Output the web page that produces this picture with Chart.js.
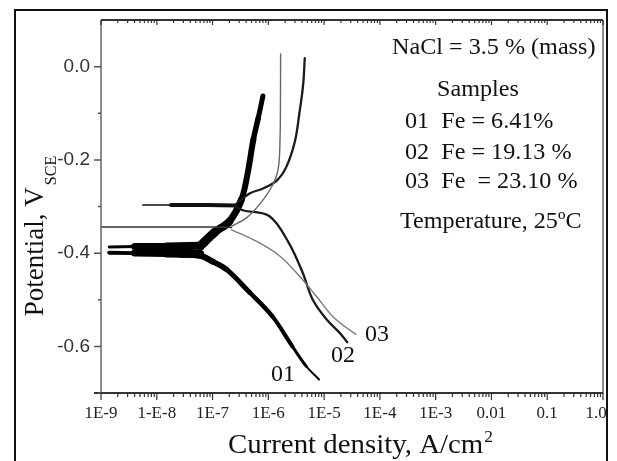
<!DOCTYPE html>
<html>
<head>
<meta charset="utf-8">
<script src="https://cdn.jsdelivr.net/npm/chart.js@4.4.1/dist/chart.umd.min.js"></script>
<style>
  html, body { margin: 0; padding: 0; background: #fff; }
  #wrap { width: 617px; height: 461px; position: relative; }
</style>
</head>
<body>
<div id="wrap"><canvas id="tafel"></canvas></div>
<script>
// x axis: one label per decade of current density
const decades = [-9, -8, -7, -6, -5, -4, -3, -2, -1, 0];
const decadeLabels = ['1E-9', '1-E-8', '1E-7', '1E-6', '1E-5', '1E-4', '1E-3', '0.01', '0.1', '1.0'];
const potentialTicks = [-0.6, -0.4, -0.2, 0.0];

// sample 01  Fe = 6.41 %
const s01BandI = [1.4e-9, 4e-9, 1.5e-8, 6e-8];
const s01BandHighE = [-0.387, -0.386, -0.386, -0.384];
const s01BandLowE = [-0.399, -0.400, -0.401, -0.402];
const s01CathodicI = [2.6e-8, 5.9e-8, 1.0e-7, 1.78e-7, 4.6e-7, 1.17e-6, 2.7e-6, 4.8e-6, 8.1e-6];
const s01CathodicE = [-0.402, -0.405, -0.418, -0.435, -0.484, -0.535, -0.600, -0.643, -0.671];
const s01AnodicI = [6.0e-8, 1.1e-7, 2.0e-7, 3.3e-7, 4.3e-7, 5.4e-7, 6.6e-7, 8.0e-7];
const s01AnodicE = [-0.385, -0.355, -0.332, -0.285, -0.226, -0.156, -0.110, -0.063];

// sample 02  Fe = 19.13 %
const s02SpikeI = [5.6e-9, 1.8e-8, 8e-8, 2.6e-7];
const s02SpikeE = [-0.297, -0.297, -0.297, -0.298];
const s02CathodicI = [2.6e-7, 3.5e-7, 1.05e-6, 2.3e-6, 4.1e-6, 6.2e-6, 1.1e-5, 1.87e-5, 2.6e-5];
const s02CathodicE = [-0.300, -0.308, -0.321, -0.377, -0.441, -0.499, -0.542, -0.570, -0.591];
const s02AnodicI = [2.6e-7, 4.6e-7, 7.8e-7, 1.4e-6, 2.1e-6, 3.0e-6, 3.6e-6, 4.2e-6, 4.5e-6];
const s02AnodicE = [-0.296, -0.272, -0.262, -0.245, -0.215, -0.160, -0.100, -0.040, 0.018];

// sample 03  Fe = 23.10 %
const s03SpikeI = [1e-9, 1e-8, 1e-7, 2.2e-7];
const s03SpikeE = [-0.344, -0.344, -0.344, -0.345];
const s03CathodicI = [2.2e-7, 6.2e-7, 1.6e-6, 3.6e-6, 7.2e-6, 1.4e-5, 2.45e-5, 3.7e-5];
const s03CathodicE = [-0.350, -0.375, -0.406, -0.449, -0.492, -0.535, -0.559, -0.574];
const s03AnodicI = [2.2e-7, 4.0e-7, 7.0e-7, 1.17e-6, 1.5e-6, 1.62e-6, 1.65e-6, 1.66e-6];
const s03AnodicE = [-0.342, -0.325, -0.295, -0.256, -0.220, -0.156, -0.070, 0.027];

const SERIF = '"Liberation Serif", "Times New Roman", serif';

const toPoints = (xs, ys) => xs.map((x, i) => ({ x: x, y: ys[i] }));

function curve(label, xs, ys, color, width, extra) {
    return Object.assign({
        label: label,
        data: toPoints(xs, ys),
        showLine: true,
        borderColor: color,
        borderWidth: width,
        pointRadius: 0,
        tension: 0.35,
        fill: false,
        borderCapStyle: 'round',
        borderJoinStyle: 'round'
    }, extra || {});
}

// varying line width along a branch
const taper = widths => ({ segment: { borderWidth: c => widths[c.p0DataIndex] } });

const datasets = [
    curve('03 spike', s03SpikeI, s03SpikeE, '#333', 1.4, { tension: 0 }),
    curve('03 cathodic', s03CathodicI, s03CathodicE, '#7a7a7a', 1.4),
    curve('03 anodic', s03AnodicI, s03AnodicE, '#666', 1.4),
    curve('02 spike', s02SpikeI, s02SpikeE, '#111', 2, Object.assign({ tension: 0 }, taper([1.5, 4, 4]))),
    curve('02 cathodic', s02CathodicI, s02CathodicE, '#1a1a1a', 2.3),
    curve('02 anodic', s02AnodicI, s02AnodicE, '#1a1a1a', 2.3),
    curve('01 band high', s01BandI, s01BandHighE, '#000', 7, Object.assign({ tension: 0 }, taper([3, 7, 8]))),
    curve('01 band low', s01BandI, s01BandLowE, '#000', 7, Object.assign({ tension: 0 }, taper([4, 7, 8]))),
    curve('01 cathodic', s01CathodicI, s01CathodicE, '#000', 5, taper([7, 6, 5.5, 5, 4.5, 4, 3, 2])),
    curve('01 anodic', s01AnodicI, s01AnodicE, '#000', 6, taper([9, 8, 7, 6, 6, 5.5, 5]))
];

// serif text, optionally widened like the scanned figure
function serifText(ctx, str, x, y, size, sx) {
    ctx.save();
    ctx.translate(x, y);
    ctx.scale(sx || 1, 1);
    ctx.font = size + 'px ' + SERIF;
    ctx.fillText(str, 0, 0);
    ctx.restore();
}

const decor = {
    id: 'decor',
    afterDraw(chart) {
        const { ctx, chartArea: a, scales } = chart;
        const xs = scales.x, ys = scales.y;
        ctx.save();

        // outer frame of the figure
        ctx.strokeStyle = '#111';
        ctx.lineWidth = 2;
        ctx.strokeRect(15, 10, 592, 470);

        // plot box
        ctx.strokeStyle = '#666';
        ctx.lineWidth = 1.5;
        ctx.beginPath();
        ctx.moveTo(a.left, a.top); ctx.lineTo(a.left, a.bottom);
        ctx.moveTo(a.right, a.top); ctx.lineTo(a.right, a.bottom);
        ctx.stroke();
        ctx.strokeStyle = '#333';
        ctx.lineWidth = 2;
        ctx.beginPath();
        ctx.moveTo(a.left - 7, a.bottom); ctx.lineTo(a.right, a.bottom);
        ctx.moveTo(a.left, a.top); ctx.lineTo(a.right, a.top);
        ctx.stroke();

        // log ticks, bottom (outward) and top (inward)
        ctx.lineWidth = 1.2;
        ctx.strokeStyle = '#333';
        ctx.beginPath();
        decades.forEach((d, k) => {
            for (let m = 1; m < 10; m++) {
                if (k === decades.length - 1 && m > 1) break;
                const px = xs.getPixelForValue(m * Math.pow(10, d));
                ctx.moveTo(px, a.bottom); ctx.lineTo(px, a.bottom + (m === 1 ? 7 : 4));
                ctx.moveTo(px, a.top); ctx.lineTo(px, a.top + (m === 1 ? 5 : 3));
            }
        });
        ctx.stroke();

        // decade labels (last one pulled in from the frame)
        ctx.fillStyle = '#222';
        ctx.textAlign = 'center';
        ctx.textBaseline = 'middle';
        ctx.font = '17px ' + SERIF;
        decades.forEach((d, k) => {
            let px = xs.getPixelForValue(Math.pow(10, d));
            if (k === decades.length - 1) px -= 7;
            ctx.fillText(decadeLabels[k], px, a.bottom + 21);
        });

        // potential ticks
        ctx.strokeStyle = '#555';
        ctx.lineWidth = 1.5;
        ctx.beginPath();
        potentialTicks.forEach(v => {
            const py = ys.getPixelForValue(v);
            ctx.moveTo(a.left - 7, py); ctx.lineTo(a.left, py);
            const pm = ys.getPixelForValue(v - 0.1);
            ctx.moveTo(a.left - 3, pm); ctx.lineTo(a.left, pm);
        });
        ctx.stroke();

        ctx.fillStyle = '#111';
        ctx.textBaseline = 'alphabetic';
        ctx.textAlign = 'left';

        // y axis title with subscript
        ctx.save();
        ctx.translate(43, 236);
        ctx.rotate(-Math.PI / 2);
        ctx.font = '27px ' + SERIF;
        const main = 'Potential, V';
        const wMain = ctx.measureText(main).width;
        ctx.font = '16px ' + SERIF;
        const wSub = ctx.measureText('SCE').width;
        const x0 = -(wMain + wSub + 2) / 2;
        serifText(ctx, main, x0, 0, 27);
        serifText(ctx, 'SCE', x0 + wMain + 2, 13, 16);
        ctx.restore();

        // x axis title with superscript
        const tsx = 1.03;
        ctx.font = '28px ' + SERIF;
        const tMain = 'Current density, A/cm';
        const tw = ctx.measureText(tMain).width * tsx;
        const tx = 228;
        serifText(ctx, tMain, tx, 453, 28, tsx);
        serifText(ctx, '2', tx + tw + 1, 442, 17, tsx);

        // notes
        const sx = 1.05;
        serifText(ctx, 'NaCl = 3.5 % (mass)', 392, 54, 23, sx);
        serifText(ctx, 'Samples', 437, 96, 23, sx);
        serifText(ctx, '01  Fe = 6.41%', 405, 128, 23, sx);
        serifText(ctx, '02  Fe = 19.13 %', 405, 159, 23, sx);
        serifText(ctx, '03  Fe  = 23.10 %', 405, 188, 23, sx);
        serifText(ctx, 'Temperature, 25ºC', 400, 228, 23, sx);

        // curve labels
        serifText(ctx, '01', 271, 381, 24);
        serifText(ctx, '02', 331, 362, 24);
        serifText(ctx, '03', 365, 341, 24);

        ctx.restore();
    }
};

new Chart(document.getElementById('tafel'), {
    type: 'scatter',
    data: { datasets: datasets },
    options: {
        responsive: true,
        maintainAspectRatio: false,
        animation: false,
        layout: { padding: { left: 0, top: 20, right: 14, bottom: 0 } },
        plugins: {
            legend: { display: false },
            tooltip: { enabled: false }
        },
        scales: {
            x: {
                type: 'logarithmic',
                min: 1e-9,
                max: 1,
                grid: { display: false, drawTicks: false },
                border: { display: false },
                afterBuildTicks: s => { s.ticks = decades.map(d => ({ value: Math.pow(10, d) })); },
                afterFit: s => { s.height = 68; s.paddingLeft = 0; s.paddingRight = 0; },
                ticks: { display: false }
            },
            y: {
                min: -0.7,
                max: 0.1,
                grid: { display: false, drawTicks: false },
                border: { display: false },
                afterBuildTicks: s => { s.ticks = potentialTicks.map(v => ({ value: v })); },
                afterFit: s => { s.width = 101; s.paddingTop = 0; s.paddingBottom = 0; },
                ticks: {
                    padding: 11,
                    color: '#333',
                    font: { family: '"Liberation Sans", Arial, sans-serif', size: 19 },
                    callback: v => v.toFixed(1)
                }
            }
        }
    },
    plugins: [decor]
});
</script>
</body>
</html>
